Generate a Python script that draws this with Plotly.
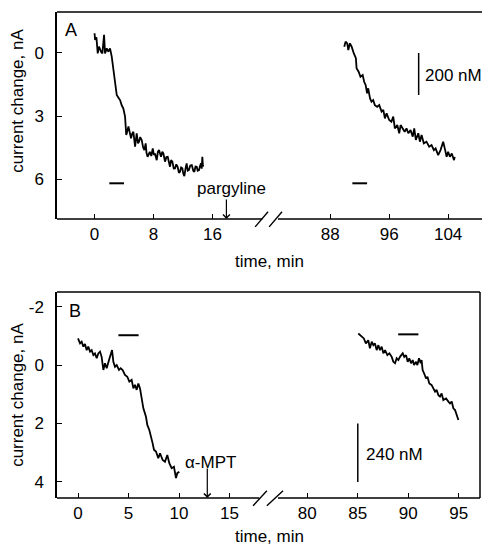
import plotly.graph_objects as go

# ---------------- data ----------------
# Panel A: before pargyline (0-15 min) and after (90-105 min); current change in nA
A1_t = [0.0, 0.07, 0.25, 0.43, 0.6, 0.75, 0.9, 1.06, 1.2, 1.29, 1.42, 1.55, 1.65, 1.88, 2.1, 2.33,
        2.55, 2.78, 3.01, 3.2, 3.46, 3.7, 3.91, 4.14, 4.3, 4.37, 4.6, 4.8, 4.95, 5.1, 5.27, 5.5,
        5.72, 5.9, 6.04, 6.2, 6.4, 6.6, 6.76, 6.94, 7.05, 7.2, 7.5, 7.7, 7.9, 8.05, 8.2, 8.44,
        8.6, 8.75, 9.02, 9.2, 9.34, 9.57, 9.75, 9.93, 10.1, 10.24, 10.4, 10.56, 10.75, 10.92,
        11.1, 11.28, 11.45, 11.6, 11.75, 11.92, 12.05, 12.19, 12.35, 12.5, 12.65, 12.8, 13.0,
        13.2, 13.4, 13.55, 13.7, 13.87, 14.0, 14.18, 14.3, 14.45, 14.55, 14.63, 14.7, 14.76]
A1_v = [-0.94, -0.62, -0.75, 0.02, -0.3, -0.14, -0.05, 0.02, -0.4, -0.86, 0.02, -0.1, -0.22, -0.06,
        -0.22, 0.17, 0.81, 1.44, 2.0, 2.1, 2.24, 2.5, 2.64, 3.03, 3.9, 3.82, 3.5, 3.95, 4.06, 3.85,
        3.75, 4.46, 3.82, 4.3, 4.22, 4.0, 4.14, 4.5, 4.62, 4.3, 4.75, 4.94, 4.7, 4.9, 4.54, 4.85,
        4.78, 5.1, 4.7, 4.62, 4.94, 4.7, 4.78, 5.17, 4.95, 4.94, 5.3, 5.41, 5.1, 5.17, 5.5, 5.49,
        5.3, 5.41, 5.7, 5.65, 5.45, 5.49, 5.75, 5.86, 5.5, 5.25, 5.6, 5.57, 5.35, 5.33, 5.6, 5.65,
        5.4, 5.41, 5.6, 5.57, 5.4, 5.25, 5.5, 4.94, 5.3, 5.41]
A2_t = [89.9, 90.08, 90.3, 90.45, 90.67, 90.9, 91.2, 91.48, 91.57, 91.85, 92.1, 92.4, 92.6, 92.8,
        93.0, 93.15, 93.4, 93.6, 93.83, 94.05, 94.37, 94.65, 94.97, 95.2, 95.42, 95.65, 96.0,
        96.3, 96.55, 96.77, 97.1, 97.36, 97.55, 97.8, 98.1, 98.35, 98.6, 98.9, 99.2, 99.4, 99.62,
        99.95, 100.17, 100.4, 100.7, 101.06, 101.43, 101.75, 102.07, 102.3, 102.65, 102.97,
        103.33, 103.6, 103.8, 104.0, 104.24, 104.5, 104.8, 104.9]
A2_v = [-0.3, -0.54, -0.46, -0.14, -0.46, -0.3, 0.02, 0.25, 0.73, 0.89, 1.13, 1.05, 1.37, 1.52,
        1.92, 1.68, 2.16, 2.32, 2.24, 2.48, 2.56, 2.48, 2.79, 2.71, 3.11, 2.87, 3.19, 3.27, 3.03,
        3.59, 3.43, 3.82, 3.43, 3.59, 3.75, 3.59, 3.82, 3.67, 3.98, 3.59, 4.14, 3.82, 4.22, 3.9,
        4.3, 4.22, 4.46, 4.38, 4.62, 4.54, 4.86, 4.62, 4.22, 4.62, 4.94, 4.7, 4.94, 4.78, 5.1, 4.94]

# Panel B: before alpha-MPT (0-10 min) and after (85-95 min)
B1_t = [0.0, 0.2, 0.36, 0.53, 0.69, 0.86, 1.02, 1.19, 1.35, 1.52, 1.68, 1.85, 2.01, 2.18, 2.34,
        2.51, 2.67, 2.84, 3.07, 3.23, 3.37, 3.5, 3.66, 3.83, 4.06, 4.22, 4.42, 4.65, 4.88, 5.08,
        5.31, 5.48, 5.64, 5.81, 5.97, 6.14, 6.3, 6.47, 6.73, 6.86, 7.06, 7.2, 7.39, 7.52, 7.72,
        7.95, 8.12, 8.38, 8.61, 8.84, 9.04, 9.27, 9.5, 9.7, 9.83, 10.03]
B1_v = [-0.91, -0.74, -0.8, -0.63, -0.72, -0.51, -0.63, -0.46, -0.51, -0.34, -0.4, -0.23, -0.4,
        -0.46, -0.28, 0.17, -0.06, 0.11, -0.17, -0.34, -0.51, -0.11, 0.06, 0.0, 0.17, 0.11, 0.17,
        0.34, 0.4, 0.57, 0.51, 0.8, 0.68, 0.85, 0.63, 0.8, 1.2, 1.48, 1.77, 2.05, 2.22, 2.39, 2.68,
        2.9, 2.96, 3.19, 3.02, 3.25, 3.31, 3.08, 3.36, 3.53, 3.48, 3.87, 3.7, 3.65]
B2_t = [85.05, 85.39, 85.6, 85.8, 86.04, 86.2, 86.38, 86.54, 86.7, 86.87, 87.04, 87.2, 87.37,
        87.53, 87.7, 87.93, 88.13, 88.36, 88.52, 88.69, 88.85, 89.02, 89.18, 89.45, 89.6, 89.78,
        89.94, 90.1, 90.27, 90.44, 90.57, 90.77, 90.9, 91.06, 91.23, 91.32, 91.42, 91.56, 91.76,
        91.9, 92.08, 92.3, 92.48, 92.65, 92.8, 92.98, 93.14, 93.3, 93.47, 93.74, 93.97, 94.13,
        94.3, 94.46, 94.63, 94.8, 94.96]
B2_v = [-1.08, -0.97, -0.91, -0.74, -0.85, -0.57, -0.8, -0.68, -0.74, -0.51, -0.68, -0.51, -0.63,
        -0.4, -0.51, -0.34, -0.4, -0.28, -0.11, -0.06, -0.23, -0.17, -0.28, -0.4, -0.28, -0.34,
        -0.11, -0.23, -0.06, -0.17, 0.0, -0.11, 0.0, -0.23, -0.06, -0.17, 0.17, 0.28, 0.46, 0.4,
        0.63, 0.68, 0.8, 0.91, 0.85, 1.03, 1.08, 0.97, 1.2, 1.14, 1.25, 1.31, 1.25, 1.48, 1.54,
        1.71, 1.88]

# stimulus bars (time start/end, level)
A_stim = [(2, 4), (91, 93)]
A_stim_level = 6.2
B_stim = [(4, 6), (89, 91)]
B_stim_level = [-1.02, -1.05]

# scale bars: (time, y0, y1, label)
A_scale = (100, 0, 2, "200 nM")
B_scale = (85, 2, 4, "240 nM")

A_ticks = [0, 8, 16, 88, 96, 104]
A_yticks = [0, 3, 6]
B_ticks = [0, 5, 10, 15, 80, 85, 90, 95]
B_yticks = [-2, 0, 2, 4]

A_drug = ("pargyline", 17.9)
B_drug = ("\u03b1-MPT", 12.8)

# ---------------- axis break handling ----------------
A_OFF = 56.0    # minutes removed from the axis in panel A
B_OFF = 57.3    # minutes removed from the axis in panel B
SPLIT = 50


def disp(ts, off):
    return [t - off if t > SPLIT else t for t in ts]


FONT = "Liberation Sans, Arial, sans-serif"
FS = 17
K = "black"
TW = 1.8

fig = go.Figure()
fig.add_trace(go.Scatter(x=disp(A1_t, A_OFF), y=A1_v, mode="lines",
                         line=dict(color=K, width=TW), xaxis="x", yaxis="y"))
fig.add_trace(go.Scatter(x=disp(A2_t, A_OFF), y=A2_v, mode="lines",
                         line=dict(color=K, width=TW), xaxis="x", yaxis="y"))
fig.add_trace(go.Scatter(x=disp(B1_t, B_OFF), y=B1_v, mode="lines",
                         line=dict(color=K, width=TW), xaxis="x2", yaxis="y2"))
fig.add_trace(go.Scatter(x=disp(B2_t, B_OFF), y=B2_v, mode="lines",
                         line=dict(color=K, width=TW), xaxis="x2", yaxis="y2"))

shapes = []
ann = []
LW = 1.5

# stimulus bars
for (a, b) in A_stim:
    xa, xb = disp([a, b], A_OFF)
    shapes.append(dict(type="line", xref="x", yref="y", x0=xa, x1=xb,
                       y0=A_stim_level, y1=A_stim_level, line=dict(color=K, width=2)))
for (a, b), lv in zip(B_stim, B_stim_level):
    xa, xb = disp([a, b], B_OFF)
    shapes.append(dict(type="line", xref="x2", yref="y2", x0=xa, x1=xb,
                       y0=lv, y1=lv, line=dict(color=K, width=2)))

# scale bars
for sc, off, xr, yr in [(A_scale, A_OFF, "x", "y"), (B_scale, B_OFF, "x2", "y2")]:
    xs = disp([sc[0]], off)[0]
    shapes.append(dict(type="line", xref=xr, yref=yr, x0=xs, x1=xs, y0=sc[1], y1=sc[2],
                       line=dict(color=K, width=1.5)))
    ann.append(dict(xref=xr, yref=yr, x=xs + 0.6, y=(sc[1] + sc[2]) / 2 + 0.05, text=sc[3],
                    showarrow=False, xanchor="left", yanchor="middle",
                    font=dict(family=FONT, size=FS, color=K)))

# frame lines: top (both), right (B only), bottom with break
for xr, yr in [("x", "y"), ("x2", "y2")]:
    shapes.append(dict(type="line", xref=xr + " domain", yref=yr + " domain",
                       x0=0, x1=1, y0=1, y1=1, line=dict(color=K, width=LW)))
shapes.append(dict(type="line", xref="x2 domain", yref="y2 domain",
                   x0=1, x1=1, y0=0, y1=1, line=dict(color=K, width=LW)))

A_range = [-5.1, 52.6]
B_range = [-2.08, 39.8]
breaks = [
    ("x", "y", A_range, 22.78, 24.9, [(21.8, 23.55), (23.7, 25.45)]),
    ("x2", "y2", B_range, 17.95, 19.8, [(17.33, 18.7), (18.7, 20.3)]),
]
for xr, yr, rng, g0, g1, slashes in breaks:
    shapes.append(dict(type="line", xref=xr, yref=yr + " domain", x0=rng[0], x1=g0,
                       y0=0, y1=0, line=dict(color=K, width=LW)))
    shapes.append(dict(type="line", xref=xr, yref=yr + " domain", x0=g1, x1=rng[1],
                       y0=0, y1=0, line=dict(color=K, width=LW)))
    for s0, s1 in slashes:
        shapes.append(dict(type="line", xref=xr, yref=yr + " domain", x0=s0, x1=s1,
                           y0=-0.038, y1=0.035, line=dict(color=K, width=1.4)))

# drug arrows
for (txt, tx), xr, yr, ay, lab_dx, lab_y in [
        (A_drug, "x", "y", -21, 0.75, 6.43),
        (B_drug, "x2", "y2", -31, 0.3, 3.35)]:
    ann.append(dict(xref=xr, yref=yr + " domain", x=tx, y=0, ax=0, ay=ay, text="",
                    showarrow=True, arrowhead=4, arrowsize=1.1, arrowwidth=1.2, arrowcolor=K))
    ann.append(dict(xref=xr, yref=yr, x=tx + lab_dx, y=lab_y, text=txt, showarrow=False,
                    xanchor="center", yanchor="middle",
                    font=dict(family=FONT, size=FS, color=K)))

# panel letters
ann.append(dict(xref="x domain", yref="y domain", x=0.033, y=0.913, text="A",
                showarrow=False, xanchor="center", yanchor="middle",
                font=dict(family=FONT, size=18, color=K)))
ann.append(dict(xref="x2 domain", yref="y2 domain", x=0.043, y=0.908, text="B",
                showarrow=False, xanchor="center", yanchor="middle",
                font=dict(family=FONT, size=18, color=K)))

# axis titles
for y in [0.817, 0.212]:
    ann.append(dict(xref="paper", yref="paper", x=-0.092, y=y, text="current change, nA",
                    textangle=-90, showarrow=False, xanchor="center", yanchor="middle",
                    font=dict(family=FONT, size=FS, color=K)))
for y in [0.4856, -0.079]:
    ann.append(dict(xref="paper", yref="paper", x=0.5, y=y, text="time, min",
                    showarrow=False, xanchor="center", yanchor="middle",
                    font=dict(family=FONT, size=FS, color=K)))

axis_common = dict(showgrid=False, zeroline=False, ticks="inside", ticklen=5, tickwidth=1.3,
                   tickcolor=K, tickfont=dict(family=FONT, size=FS, color=K), automargin=False)

fig.update_layout(
    width=482, height=547, showlegend=False,
    margin=dict(l=57, r=0, t=12, b=49),
    paper_bgcolor="white", plot_bgcolor="white",
    xaxis=dict(domain=[0, 1], range=A_range, anchor="y",
               tickvals=disp(A_ticks, A_OFF), ticktext=[str(t) for t in A_ticks],
               showline=False, ticklabelstandoff=3, **axis_common),
    yaxis=dict(domain=[0.574, 1], range=[7.9, -1.95], anchor="x",
               tickvals=A_yticks, ticktext=[str(t) for t in A_yticks],
               showline=True, linecolor=K, linewidth=LW, ticklabelstandoff=8, **axis_common),
    xaxis2=dict(domain=[0, 423 / 425], range=B_range, anchor="y2",
                tickvals=disp(B_ticks, B_OFF), ticktext=[str(t) for t in B_ticks],
                showline=False, ticklabelstandoff=3, **axis_common),
    yaxis2=dict(domain=[0, 0.4239], range=[4.55, -2.5], anchor="x2",
                tickvals=B_yticks, ticktext=[str(t) for t in B_yticks],
                showline=True, linecolor=K, linewidth=LW, ticklabelstandoff=8, **axis_common),
    shapes=shapes, annotations=ann,
)

fig.write_html("out.html", config={"displayModeBar": False},
               post_script="document.body.style.margin='0';")
